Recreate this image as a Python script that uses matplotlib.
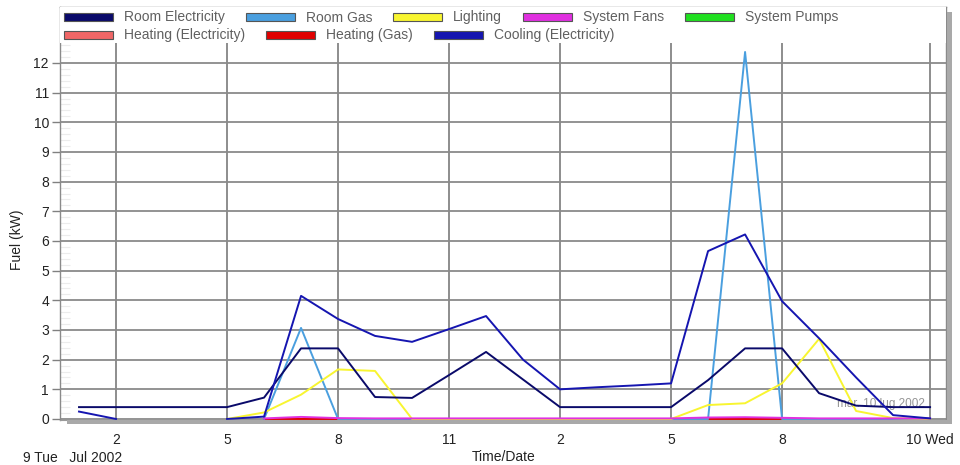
import numpy as np
import matplotlib
matplotlib.use('Agg')
import matplotlib.pyplot as plt
from matplotlib.patches import Rectangle
from matplotlib.ticker import MultipleLocator

plt.rcParams['font.family'] = ['Liberation Sans', 'DejaVu Sans']

nan = np.nan
# hours of 9 Jul 2002 (value at end of each hour)
hours = np.arange(1, 25)

room_elec = [0.4, 0.4, 0.4, 0.4, 0.4, 0.72, 2.38, 2.38, 0.74, 0.71, 1.48, 2.26,
             1.33, 0.4, 0.4, 0.4, 0.4, 1.31, 2.38, 2.38, 0.87, 0.45, 0.4, 0.4]
room_gas = [nan, nan, nan, nan, nan, 0, 3.07, 0, 0, 0, 0, 0,
            0, 0, 0, 0, 0, 0, 12.37, 0, 0, 0, 0, 0]
lighting = [nan, nan, nan, nan, 0, 0.22, 0.82, 1.67, 1.62, 0, 0, 0,
            0, 0, 0, 0, 0, 0.47, 0.53, 1.2, 2.7, 0.27, 0.03, 0]
sys_fans = [nan, nan, nan, nan, nan, 0.02, 0.07, 0.03, 0.02, 0.02, 0.02, 0.02,
            0.02, 0.02, 0.02, 0.02, 0.02, 0.05, 0.06, 0.04, 0.02, 0.02, 0.02, 0.02]
sys_pumps = [nan] * 5 + [0] * 19
heat_elec = [nan] * 5 + [0] * 19
heat_gas = [nan] * 5 + [0] * 19
cooling = [0.25, 0, nan, nan, 0, 0.08, 4.15, 3.37, 2.8, 2.6, 3.03, 3.47,
           2.0, 1.0, 1.07, 1.13, 1.2, 5.66, 6.22, 3.97, 2.72, 1.4, 0.13, 0.02]

xtick_pos = [2, 5, 8, 11, 14, 17, 20, 24]
xtick_lab = ['2', '5', '8', '11', '2', '5', '8', '10 Wed']

series = [
    ('Room Electricity', room_elec, '#0a0a6a', 2.4),
    ('Room Gas', room_gas, '#4a9fdf', 2.1),
    ('Lighting', lighting, '#f8f530', 2.2),
    ('System Fans', sys_fans, '#e030e0', 2.3),
    ('System Pumps', sys_pumps, '#20e020', 2.0),
    ('Heating (Electricity)', heat_elec, '#f06666', 2.0),
    ('Heating (Gas)', heat_gas, '#e00000', 2.0),
    ('Cooling (Electricity)', cooling, '#1515b0', 2.5),
]

W, H = 960, 465
fig = plt.figure(figsize=(W / 100, H / 100), dpi=100)
ax = fig.add_axes([60 / W, 1 - 420 / H, 886 / W, 413 / H])

for name, vals, col, z in series:
    ax.plot(hours, vals, color=col, lw=1.4, zorder=z)

ax.set_xlim(0.486, 24.43)
ax.set_ylim(-0.034, 13.886)

ax.set_xticks(xtick_pos)
ax.set_xticklabels(xtick_lab)
ax.set_yticks(range(0, 13))
ax.yaxis.set_minor_locator(MultipleLocator(0.2))
ax.tick_params(axis='x', length=0, pad=9, labelsize=10, colors='#222222')
ax.tick_params(axis='y', which='major', length=6, width=1, color='#808080',
               pad=2, labelsize=10, labelcolor='#222222')
ax.tick_params(axis='y', which='minor', direction='in', length=7, width=0.8,
               color='#ececec')
ax.grid(axis='y', color='#8a8a8a', lw=1.3)
ax.grid(axis='x', color='#7a7a7a', lw=1.2)
ax.set_axisbelow(True)
for s in ['left', 'top', 'right']:
    ax.spines[s].set_color('#8a8a8a')
    ax.spines[s].set_linewidth(1)
ax.spines['bottom'].set_color('#9a9a9a')

# white legend strip at the top of the plot
ax.add_patch(Rectangle((0, 1 - 36 / 413), 1, 36 / 413, transform=ax.transAxes,
                       facecolor='white', edgecolor='none', zorder=3))

ax.text(925 / W, 1 - 404 / H, 'mar. 10 lug 2002', transform=fig.transFigure,
        ha='right', va='center', fontsize=8.5, color='#959595', zorder=1.5)

# frame shadow
fig.add_artist(Rectangle((67 / W, 1 - 424 / H), 885 / W, 4 / H,
                         transform=fig.transFigure, facecolor='#a9a9a9',
                         edgecolor='none'))
fig.add_artist(Rectangle((947 / W, 1 - 424 / H), 5 / W, 412 / H,
                         transform=fig.transFigure, facecolor='#a9a9a9',
                         edgecolor='none'))

# legend, laid out in rows like the original
renderer = fig.canvas.get_renderer()
rows = [series[:5], series[5:]]
row_y = [17.5, 35.5]
for row, yc in zip(rows, row_y):
    x = 64
    for name, vals, col, z in row:
        fig.add_artist(Rectangle((x / W, 1 - (yc + 4) / H), 49 / W, 8 / H,
                                 transform=fig.transFigure, facecolor=col,
                                 edgecolor='#555555', lw=0.8, zorder=5))
        t = fig.text((x + 60) / W, 1 - yc / H, name, ha='left', va='center',
                     fontsize=10, color='#606060', zorder=5)
        bb = t.get_window_extent(renderer)
        x = x + 60 + bb.width + 21

fig.text(17 / W, 1 - 240 / H, 'Fuel (kW)', rotation=90, ha='center',
         va='center', fontsize=10, color='#222222')
fig.text(23 / W, 1 - 458 / H, '9 Tue   Jul 2002', ha='left', va='center',
         fontsize=10, color='#222222')
fig.text(504 / W, 1 - 457 / H, 'Time/Date', ha='center', va='center',
         fontsize=10, color='#222222')

fig.savefig('out.png', dpi=100)
